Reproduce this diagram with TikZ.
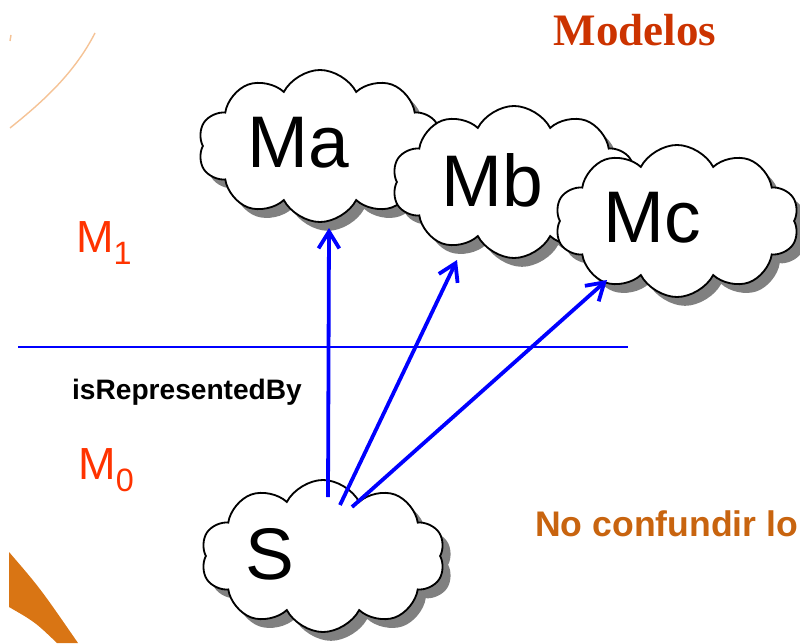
\documentclass[tikz,border=0pt]{standalone}
\usepackage{fontspec}
\setmainfont{Liberation Sans}
\newfontfamily\titlefont{Liberation Serif}
\usetikzlibrary{shapes, arrows.meta, shadows, calc}

\definecolor{level_red}{RGB}{255,51,0}
\definecolor{title_red}{RGB}{204,51,0}
\definecolor{note_brown}{RGB}{200,100,15}
\definecolor{peach}{RGB}{245,195,150}
\definecolor{wedge_orange}{RGB}{217,117,20}

\begin{document}
\begin{tikzpicture}[x=0.025cm, y=-0.025cm]
		\tikzstyle{cloud_block} = [draw, line width=1.3pt, cloud, cloud puffs=10, cloud puff arc=125, fill=white, minimum width=6.1cm, minimum height=3.8cm, drop shadow={shadow xshift=0.2cm, shadow yshift=-0.22cm, fill=gray, opacity=1}];
		\tikzstyle{model_txt} = [inner sep=0, font=\fontsize{52}{60}\selectfont];
		\tikzstyle{level_txt} = [inner sep=0, text=level_red, font=\fontsize{32}{36}\selectfont];
		\tikzstyle{rep_arrow} = [blue, line width=2.7pt, -{Straight Barb[length=0.42cm, width=0.52cm]}];

		\useasboundingbox (0,0) rectangle (800,643);

		% slide decorations
		\draw[peach, line width=1pt] (10,128) .. controls (45,100) and (75,72) .. (95,33);
		\draw[peach, line width=1pt] (11,35) -- (10,41);
		\fill[wedge_orange] (9,552) .. controls (40,588) .. (78,643) -- (57,643) .. controls (35,622) .. (9,607) -- cycle;

		\node[inner sep=0, text=title_red, font=\titlefont\bfseries\fontsize{32}{36}\selectfont] (title) at (635,30) {Modelos};

		\node[cloud_block] (ma) at (320,146) {};
		\node[cloud_block] (mb) at (514,182) {};
		\node[cloud_block] (mc) at (677,221) {};
		\node[cloud_block] (s) at (323,556) {};

		\node[model_txt] (ma_txt) at ($(ma.center)+(-22,-3)$) {Ma};
		\node[model_txt] (mb_txt) at ($(mb.center)+(-22,-2)$) {Mb};
		\node[model_txt] (mc_txt) at ($(mc.center)+(-25,-3)$) {Mc};
		\node[model_txt] (s_txt) at ($(s.center)+(-53,-2)$) {S};

		\node[level_txt] (m_one) at (104,243) {M\raisebox{-0.3cm}{\fontsize{23}{24}\selectfont 1}};
		\node[level_txt] (m_zero) at (106,470) {M\raisebox{-0.3cm}{\fontsize{23}{24}\selectfont 0}};
		\node[inner sep=0, font=\bfseries\fontsize{20}{22}\selectfont] (rel) at (187,392) {isRepresentedBy};
		\node[inner sep=0, anchor=west, text=note_brown, font=\bfseries\fontsize{25.3}{28}\selectfont] (note) at (535,524) {No confundir lo};

		% level separator
		\coordinate (sep_l) at (18,347);
		\coordinate (sep_r) at (628,347);
		\draw[blue, line width=1.9pt] (sep_l) -- (sep_r);

		\draw[rep_arrow] ($(s.center)+(5,-59)$) -- ($(ma.center)+(9,82)$);
		\draw[rep_arrow] ($(s.center)+(17,-51)$) -- ($(mb.center)+(-57,78)$);
		\draw[rep_arrow] ($(s.center)+(29,-49)$) -- ($(mc.center)+(-70,59)$);
	\end{tikzpicture}
\end{document}
